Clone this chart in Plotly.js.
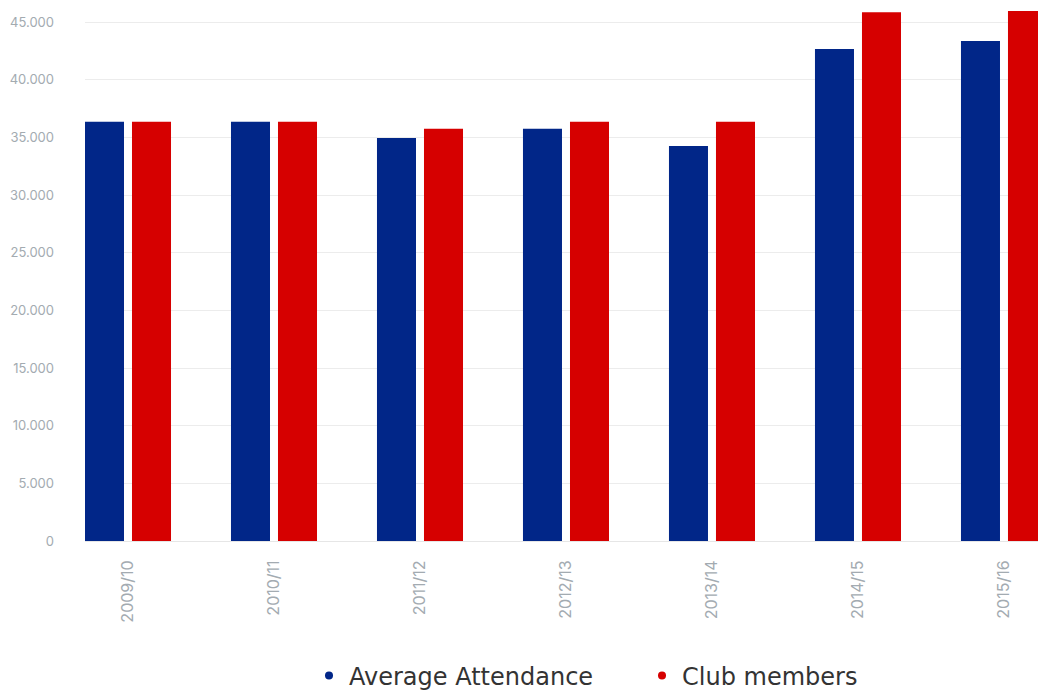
<!DOCTYPE html>
<html>
<head>
<meta charset="utf-8">
<script src="https://cdn.plot.ly/plotly-3.0.1.min.js"></script>
<style>html,body{margin:0;padding:0;background:#fff}#chart{width:1038px;height:691px}</style>
</head>
<body>
<div id="chart"></div>
<script>
const seasons = ["2009/10","2010/11","2011/12","2012/13","2013/14","2014/15","2015/16"];
const averageAttendance = [36350, 36350, 34950, 35750, 34250, 42650, 43350];
const clubMembers = [36350, 36350, 35750, 36350, 36350, 45850, 45950];
const seriesNames = ["Average Attendance", "Club members"];
const colors = ["#012688", "#d60000"];

const traces = [
  {type:"bar", x:seasons, y:averageAttendance, name:seriesNames[0], marker:{color:colors[0]}, showlegend:false, legendgroup:"a"},
  {type:"bar", x:seasons, y:clubMembers, name:seriesNames[1], marker:{color:colors[1]}, showlegend:false, legendgroup:"b"},
  {type:"scatter", mode:"markers", x:[null], y:[null], name:seriesNames[0], legendgroup:"a", legend:"legend", marker:{color:colors[0], size:8, symbol:"circle"}},
  {type:"scatter", mode:"markers", x:[null], y:[null], name:seriesNames[1], legendgroup:"b", legend:"legend2", marker:{color:colors[1], size:8, symbol:"circle"}}
];

const legendFont = {size:24, color:"#333333", family:"'DejaVu Sans', 'Open Sans', sans-serif"};
const layout = {
  width:1038, height:691,
  margin:{l:85, r:0, t:0, b:150, autoexpand:false},
  paper_bgcolor:"#fff", plot_bgcolor:"#fff",
  separators:",.",
  barmode:"group", bargap:0.356, bargroupgap:0.17,
  font:{family:"Inter, 'Open Sans', sans-serif"},
  xaxis:{
    type:"category", range:[-0.2945, 6.233],
    tickangle:-90, ticklabelstandoff:12,
    tickfont:{size:16, color:"#a3abb1"},
    showgrid:false, showline:true, linecolor:"#e6e6e6", linewidth:1,
    ticks:"", fixedrange:true, automargin:false
  },
  yaxis:{
    range:[0, 46908], tickvals:[0,5000,10000,15000,20000,25000,30000,35000,40000,45000],
    tickformat:",d",
    tickfont:{size:13, color:"#a3abb1"},
    gridcolor:"#ececec", gridwidth:1, zeroline:false,
    ticks:"", ticklabelstandoff:30, fixedrange:true, automargin:false
  },
  legend:{
    orientation:"h", x:(309-85)/953, xanchor:"left", y:(541-676)/541, yanchor:"middle",
    font:legendFont, itemwidth:30, bgcolor:"rgba(0,0,0,0)"
  },
  legend2:{
    orientation:"h", x:(642-85)/953, xanchor:"left", y:(541-676)/541, yanchor:"middle",
    font:legendFont, itemwidth:30, bgcolor:"rgba(0,0,0,0)"
  },
  showlegend:true
};

Plotly.newPlot("chart", traces, layout, {displayModeBar:false, staticPlot:true});
</script>
</body>
</html>
